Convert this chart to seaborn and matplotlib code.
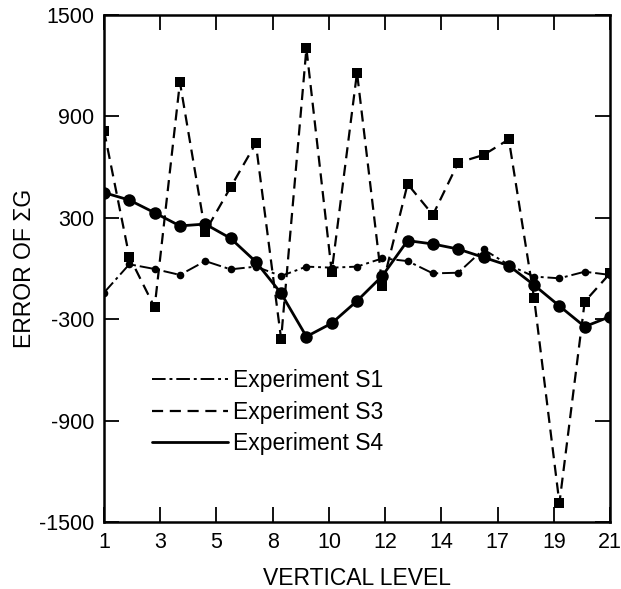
import numpy as np
import pandas as pd
import seaborn as sns
import matplotlib
matplotlib.use("Agg")
import matplotlib.pyplot as plt
from matplotlib.lines import Line2D

# error of sum G at each vertical level
levels = list(range(1, 22))
s1 = [-143, 25, -3, -38, 44, -5, 11, -44, 11, 5, 11, 60, 44, -29, -25, 113, 21, -48, -58, -19, -38]
s3 = [816, 70, -230, 1102, 218, 480, 741, -417, 1303, -19, 1159, -103, 500, 317, 626, 672, 764, -176, -1389, -196, -29]
s4 = [449, 405, 330, 252, 263, 179, 40, -147, -403, -324, -192, -44, 165, 145, 115, 66, 17, -98, -222, -344, -285]

xtick_labels = ["1", "3", "5", "8", "10", "12", "14", "17", "19", "21"]
yticks = [-1500, -900, -300, 300, 900, 1500]

sns.set_style("ticks")
plt.rcParams['font.family'] = ['Liberation Sans', 'DejaVu Sans']
plt.rcParams['axes.unicode_minus'] = False
plt.rcParams['text.color'] = 'black'
plt.rcParams['axes.labelcolor'] = 'black'
plt.rcParams['xtick.color'] = 'black'
plt.rcParams['ytick.color'] = 'black'
plt.rcParams['axes.edgecolor'] = 'black'

fig = plt.figure(figsize=(6.21, 5.89), dpi=100)
ax = fig.add_axes([0.1675, 0.1138, 0.8148, 0.8607])

df1 = pd.DataFrame({"level": levels, "err": s1})
df3 = pd.DataFrame({"level": levels, "err": s3})
df4 = pd.DataFrame({"level": levels, "err": s4})

dashdot = (0, (7, 2, 1.5, 2))
dashed = (0, (5, 3))

sns.lineplot(data=df1, x="level", y="err", ax=ax, color="black", lw=1.4,
             marker="o", markersize=5.5, markeredgewidth=0, linestyle=dashdot)
sns.lineplot(data=df3, x="level", y="err", ax=ax, color="black", lw=1.6,
             marker="s", markersize=6.5, markeredgewidth=0, linestyle=dashed)
sns.lineplot(data=df4, x="level", y="err", ax=ax, color="black", lw=2.0,
             marker="o", markersize=9, markeredgewidth=0)

ax.set_xlim(1, 21)
ax.set_ylim(-1500, 1500)
ax.set_xticks(np.linspace(1, 21, 10))
ax.set_xticklabels(xtick_labels)
ax.set_yticks(yticks)
ax.tick_params(direction="in", length=11, width=1.3, labelsize=15.5, pad=7,
               top=True, right=True)
for sp in ax.spines.values():
    sp.set_linewidth(1.8)
    sp.set_visible(True)

ax.set_xlabel("VERTICAL LEVEL", fontsize=16.5, labelpad=10)
ax.set_ylabel("ERROR OF \u03a3G", fontsize=16.5, labelpad=2)

handles = [
    Line2D([], [], color="black", lw=1.4, linestyle=dashdot),
    Line2D([], [], color="black", lw=1.6, linestyle=dashed),
    Line2D([], [], color="black", lw=2.0),
]
ax.legend(handles, ["Experiment S1", "Experiment S3", "Experiment S4"],
          loc="upper left", bbox_to_anchor=(0.095, 0.302), frameon=False,
          fontsize=16.5, handlelength=3.3, handletextpad=0.25, labelspacing=0.38,
          borderpad=0, borderaxespad=0)

fig.savefig("out.png", dpi=100)
